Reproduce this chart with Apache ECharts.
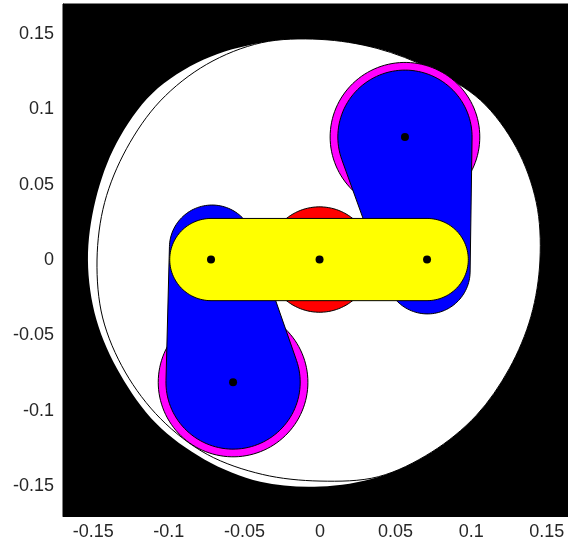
<!DOCTYPE html>
<html>
<head>
<meta charset="utf-8">
<style>html,body{margin:0;padding:0;background:#fff;overflow:hidden}#c{width:568px;height:544px}</style>
<script src="https://cdn.jsdelivr.net/npm/echarts@6/dist/echarts.min.js"></script>
</head>
<body>
<div id="c"></div>
<script>
var tickValues = [-0.15, -0.1, -0.05, 0, 0.05, 0.1, 0.15];
var envelopeAngles = [0,15,30,45,60,75,90,105,120,135,150,165,180,195,210,225,240,255,270,285,300,315,330,345];
var outerRadii = [0.1455,0.1481,0.1498,0.1501,0.1465,0.1455,0.1465,0.1494,0.1537,0.1567,0.1554,0.1537,0.1535,0.1531,0.1524,0.1534,0.1529,0.1524,0.1504,0.1491,0.1474,0.1461,0.1445,0.1445];
var innerRadii = [0.1455,0.1481,0.1498,0.1501,0.1465,0.1455,0.1465,0.1494,0.15,0.1494,0.1478,0.1475,0.1475,0.1488,0.1488,0.1491,0.1491,0.1474,0.1468,0.149,0.1474,0.1461,0.1445,0.1445];
var pivotPoints = [[-0.0721,0.0003],[-0.0003,0.0003],[0.0708,0.0003],[0.0562,0.0817],[-0.0575,-0.0812]];
var camCentres = [[0.0562,0.0817],[-0.0575,-0.0812]];
var lobeCentres = [[0.0711,-0.0076],[-0.0714,0.0083]];
var camRadius = 0.0495, bodyRadius = 0.0444, lobeRadius = 0.0282, hubRadius = 0.035, barRadius = 0.0273;

function polar(radii) {
  return radii.map(function (r, i) {
    var a = envelopeAngles[i] * Math.PI / 180;
    return [r * Math.cos(a), r * Math.sin(a)];
  });
}
function arc(c, r, a0, a1) {
  var n = Math.max(4, Math.ceil(Math.abs(a1 - a0) / 0.05)), out = [];
  for (var i = 0; i <= n; i++) {
    var a = a0 + (a1 - a0) * i / n;
    out.push([c[0] + r * Math.cos(a), c[1] + r * Math.sin(a)]);
  }
  return out;
}
function capsule(c1, r1, c2, r2) {
  var dx = c2[0] - c1[0], dy = c2[1] - c1[1], d = Math.hypot(dx, dy);
  var t = Math.atan2(dy, dx), a = Math.acos((r1 - r2) / d);
  return arc(c1, r1, t + a, t + 2 * Math.PI - a).concat(arc(c2, r2, t - a, t + a));
}
function shape(name, pts, fill, stroke, smooth) {
  return {
    type: 'custom', name: name, coordinateSystem: 'cartesian2d', clip: true, silent: true,
    encode: {x: 0, y: 1}, data: pts, animation: false,
    renderItem: function (params, api) {
      if (params.dataIndex !== 0) return null;
      return {
        type: 'polygon',
        shape: {points: pts.map(function (p) { return api.coord(p); }), smooth: smooth || 0},
        style: {fill: fill, stroke: stroke, lineWidth: stroke ? 1 : 0}
      };
    }
  };
}
var circle = function (c, r) { return arc(c, r, 0, 2 * Math.PI); };
var series = [
  shape('outer', polar(outerRadii), '#fff', null, 0.33),
  shape('inner', polar(innerRadii), '#fff', '#000', 0.33),
  shape('hub', circle(pivotPoints[1], hubRadius), '#f00', '#000'),
  shape('cam1', circle(camCentres[0], camRadius), '#f0f', '#000'),
  shape('cam2', circle(camCentres[1], camRadius), '#f0f', '#000'),
  shape('body1', capsule(camCentres[0], bodyRadius, lobeCentres[0], lobeRadius), '#00f', '#000'),
  shape('body2', capsule(camCentres[1], bodyRadius, lobeCentres[1], lobeRadius), '#00f', '#000'),
  shape('bar', capsule(pivotPoints[0], barRadius, pivotPoints[2], barRadius), '#ff0', '#000'),
  {type: 'scatter', name: 'pivots', data: pivotPoints, symbol: 'circle', symbolSize: 8,
   itemStyle: {color: '#000', opacity: 1}, silent: true, animation: false, z: 5}
];
function axis(margin) {
  return {
    type: 'value', min: -0.17, max: 0.17, splitLine: {show: false},
    axisLine: {show: true, onZero: false, lineStyle: {color: '#000', width: 1}},
    axisTick: {show: false},
    axisLabel: {
      show: true, customValues: tickValues, margin: margin, hideOverlap: false,
      color: '#262626', fontFamily: '"Liberation Sans", Arial, sans-serif', fontSize: 18,
      formatter: function (v) { return String(v); }
    }
  };
}
var chart = echarts.init(document.getElementById('c'), null, {renderer: 'canvas'});
chart.setOption({
  animation: false,
  backgroundColor: '#fff',
  grid: {show: true, left: 63, top: 4, width: 514, height: 512, outerBoundsMode: 'none', containLabel: false, backgroundColor: '#000', borderColor: '#000', borderWidth: 1},
  xAxis: axis(7),
  yAxis: axis(9),
  series: series
});
</script>
</body>
</html>
